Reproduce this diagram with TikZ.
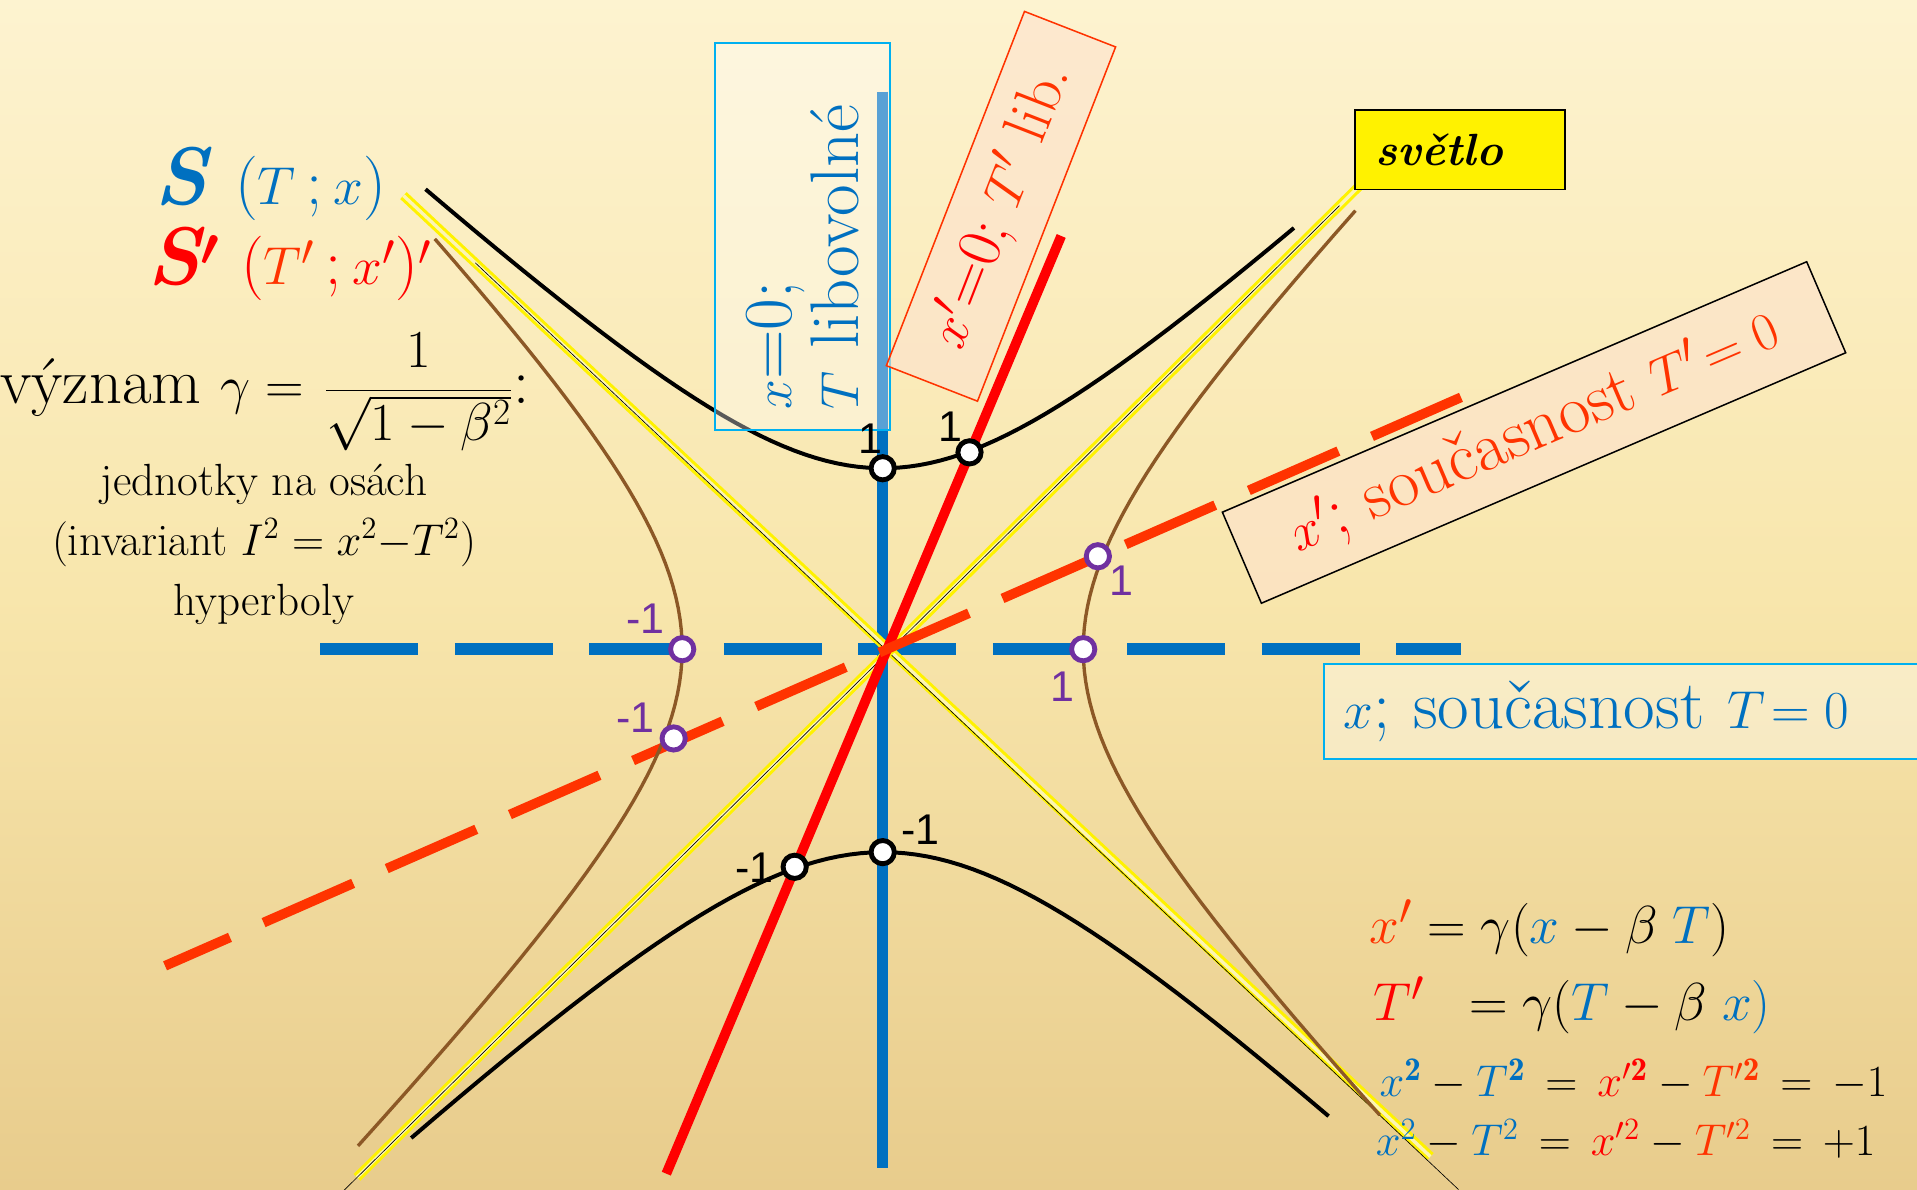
\documentclass[tikz,border=0pt]{standalone}
\usepackage{fontspec}
\newfontfamily\arialfont{Liberation Sans}
\usetikzlibrary{calc,positioning}
\definecolor{sblue}{RGB}{0,112,192}
\definecolor{lblue}{RGB}{0,176,240}
\definecolor{sred}{RGB}{255,0,0}
\definecolor{sorange}{RGB}{255,51,0}
\definecolor{hbrown}{RGB}{140,88,38}
\definecolor{mpurple}{RGB}{112,48,160}
\definecolor{peach}{RGB}{253,226,206}
\definecolor{bgtop}{RGB}{253,243,208}
\definecolor{bgmid}{RGB}{248,230,172}
\definecolor{bgbot}{RGB}{232,204,140}
\definecolor{raycore}{RGB}{252,244,180}
\tikzset{
 axisT/.style={sblue,line width=1.8mm},
 axisX/.style={sblue,line width=1.9mm,dash pattern=on 16mm off 6mm},
 axisTp/.style={sred,line width=1.6mm},
 axisXp/.style={sorange,line width=1.6mm,dash pattern=on 16mm off 6mm},
 hypT/.style={black,line width=0.65mm},
 hypX/.style={hbrown,line width=0.55mm},
 lightray/.style={yellow,line width=0.5mm,double=raycore,double distance=0.55mm},
 lightmid/.style={black,line width=0.3pt},
 tick/.style={circle,draw=black,fill=white,line width=0.8mm,minimum size=3.8mm,inner sep=0},
 ptick/.style={tick,draw=mpurple},
 ticklabel/.style={font=\arialfont\fontsize{20}{24}\selectfont,inner sep=0},
 pticklabel/.style={ticklabel,text=mpurple},
 bluebox/.style={draw=lblue,line width=0.3mm,fill=white,fill opacity=0.35,text opacity=1},
 redbox/.style={draw=sorange,line width=0.25mm,fill=peach,fill opacity=0.6,text opacity=1},
 bigtext/.style={font=\fontsize{29}{31.3}\selectfont}
}
\begin{document}
\begin{tikzpicture}[x=0.2mm,y=-0.2mm]
\useasboundingbox (0,0) rectangle (1568,973);
\shade[top color=bgtop,bottom color=bgbot,middle color=bgmid] (0,0) rectangle (1568,973);
\coordinate (O) at (722,531);
\coordinate (t1) at (722,75);
\coordinate (t2) at (722,955);
\coordinate (x1) at (262,531);
\coordinate (x2) at (1195,531);
\coordinate (tp1) at (545,960);
\coordinate (tp2) at (868,193);
\coordinate (xp1) at (135,790);
\coordinate (xp2) at (1195,325);
\coordinate (la1) at (330,160);
\coordinate (la2) at (1170,946);
\coordinate (la3) at (1193,973);
\coordinate (lb1) at (1112,152);
\coordinate (lb2) at (292,963);
\coordinate (lb3) at (280,975);
\draw[axisT] (t1) -- (t2);
\draw[axisX] (x1) -- (x2);
\draw[lightray] (la1) -- (la2);
\draw[lightmid] ($(la1)!.07!(la2)$) -- (la3);
\draw[lightray] (lb1) -- (lb2);
\draw[lightmid] ($(lb1)!.02!(lb2)$) -- (lb3);
\draw[axisTp] (tp1) -- (tp2);
\draw[axisXp,dash phase=4.4mm] (xp1) -- (xp2);
\draw[hypT] plot[domain=-1.585:1.489,samples=60] ({722+160*sinh(\x)},{531-148*cosh(\x)});
\draw[hypT] plot[domain=-1.526:1.476,samples=60] ({722+176*sinh(\x)},{531+166*cosh(\x)});
\draw[hypX] plot[domain=-1.5575:1.503,samples=60] ({722+164*cosh(\x)},{531-168*sinh(\x)});
\draw[hypX] plot[domain=-1.6165:1.4435,samples=60] ({722-164*cosh(\x)},{531-168*sinh(\x)});
\node[bluebox,rotate=90,minimum height=28.6mm,inner xsep=3.4mm,text width=56.6mm,align=left,font=\fontsize{32}{31.3}\selectfont,text=sblue] (xzero) at (656.5,193.5) {$x$=0;\\$T$ libovolné};
\node[redbox,rotate=68.7,minimum width=62.2mm,minimum height=16mm,bigtext] (xpzero) at (818.75,168.75) {\textcolor{sred}{$x'$=0;} \textcolor{sorange}{$T'$ lib.}};
\node[redbox,draw=black,rotate=23.2,minimum width=104mm,minimum height=16.2mm,font=\fontsize{32}{34}\selectfont,text=sorange] (xpnow) at (1254.75,353.75) {\textcolor{sred}{$x'$;} současnost $T'\!=0$};
\node[bluebox,anchor=west,minimum height=15.6mm,inner xsep=3.2mm,text width=92.2mm,align=left,font=\fontsize{32}{34}\selectfont,text=sblue] (xnow) at (1082,582) {$x$; současnost $T\!=0$};
\node[draw=black,line width=0.3mm,fill=yellow,minimum height=13mm,inner xsep=3.4mm,text width=27.6mm,align=left,font=\bfseries\itshape\fontsize{21}{24}\selectfont] (light) at (1194,122.5) {světlo};
\node[tick] (pt1) at (722,383) {};
\node[tick] (pt2) at (793,370) {};
\node[tick] (pt3) at (722,697) {};
\node[tick] (pt4) at (650,709) {};
\node[ptick] (px1) at (558,531) {};
\node[ptick] (px2) at (886,531) {};
\node[ptick] (px3) at (898,455) {};
\node[ptick] (px4) at (551,604) {};
\node[ticklabel] (pt1l) at ($(pt1)+(-10,-24)$) {1};
\node[ticklabel] (pt2l) at ($(pt2)+(-16,-21)$) {1};
\node[ticklabel] (pt3l) at ($(pt3)+(31,-18)$) {-1};
\node[ticklabel] (pt4l) at ($(pt4)+(-33,1)$) {-1};
\node[pticklabel] (px1l) at ($(px1)+(-30,-25)$) {-1};
\node[pticklabel] (px2l) at ($(px2)+(-17,31)$) {1};
\node[pticklabel] (px3l) at ($(px3)+(19,20)$) {1};
\node[pticklabel] (px4l) at ($(px4)+(-31,-17)$) {-1};
\node[anchor=base west,inner sep=0,text=sblue,font=\fontsize{30}{36}\selectfont] (sys) at (126,167) {{\bfseries\itshape\fontsize{38}{40}\selectfont S}\hspace{4.5mm}($T$\,;\,$x$)};
\node[anchor=base west,inner sep=0,text=sred,font=\fontsize{30}{36}\selectfont] (sysp) at (120,233) {{\bfseries\itshape\fontsize{38}{40}\selectfont S{\boldmath$'$}}\hspace{3.5mm}(\textcolor{sorange}{$T'$}\,;\,$x'$)$'$};
\node[anchor=base west,inner sep=0,font=\fontsize{30}{36}\selectfont] (meaning) at (0,330) {význam $\gamma =$ {\fontsize{23}{28}\selectfont$\displaystyle\frac{1}{\sqrt{1-\beta^2}}$}:};
\node[align=center,inner sep=0,font=\fontsize{21}{27.9}\selectfont] (units) at (216,445) {jednotky na osách\\(invariant $I^2 = x^2{-}T^2$)\\hyperboly};
\node[anchor=base west,inner sep=0,font=\fontsize{29}{34}\selectfont] (lor1) at (1120,772) {$\textcolor{sorange}{x'} = \gamma(\textcolor{sblue}{x} - \beta\;\textcolor{sblue}{T})$};
\node[anchor=base west,inner sep=0,font=\fontsize{29}{34}\selectfont] (lor2) at (1123,835) {$\textcolor{sred}{T'}\;\; = \gamma(\textcolor{sblue}{T} - \beta\;\textcolor{sblue}{x)}$};
\node[anchor=base west,inner sep=0,font=\fontsize{22}{26}\selectfont] (inv1) at (1128,897) {$\textcolor{sblue}{x^{\mathbf{2}}} - \textcolor{sblue}{T^{\mathbf{2}}} \,=\, \textcolor{sred}{x'^{\mathbf{2}}} - \textcolor{sorange}{T'^{\mathbf{2}}} \,=\, -1$};
\node[anchor=base west,inner sep=0,font=\fontsize{22}{26}\selectfont] (inv2) at (1125,945) {$\textcolor{sblue}{x^2} - \textcolor{sblue}{T^2} \,=\, \textcolor{sred}{x'^2} - \textcolor{sorange}{T'^2} \,=\, +1$};
\end{tikzpicture}
\end{document}
